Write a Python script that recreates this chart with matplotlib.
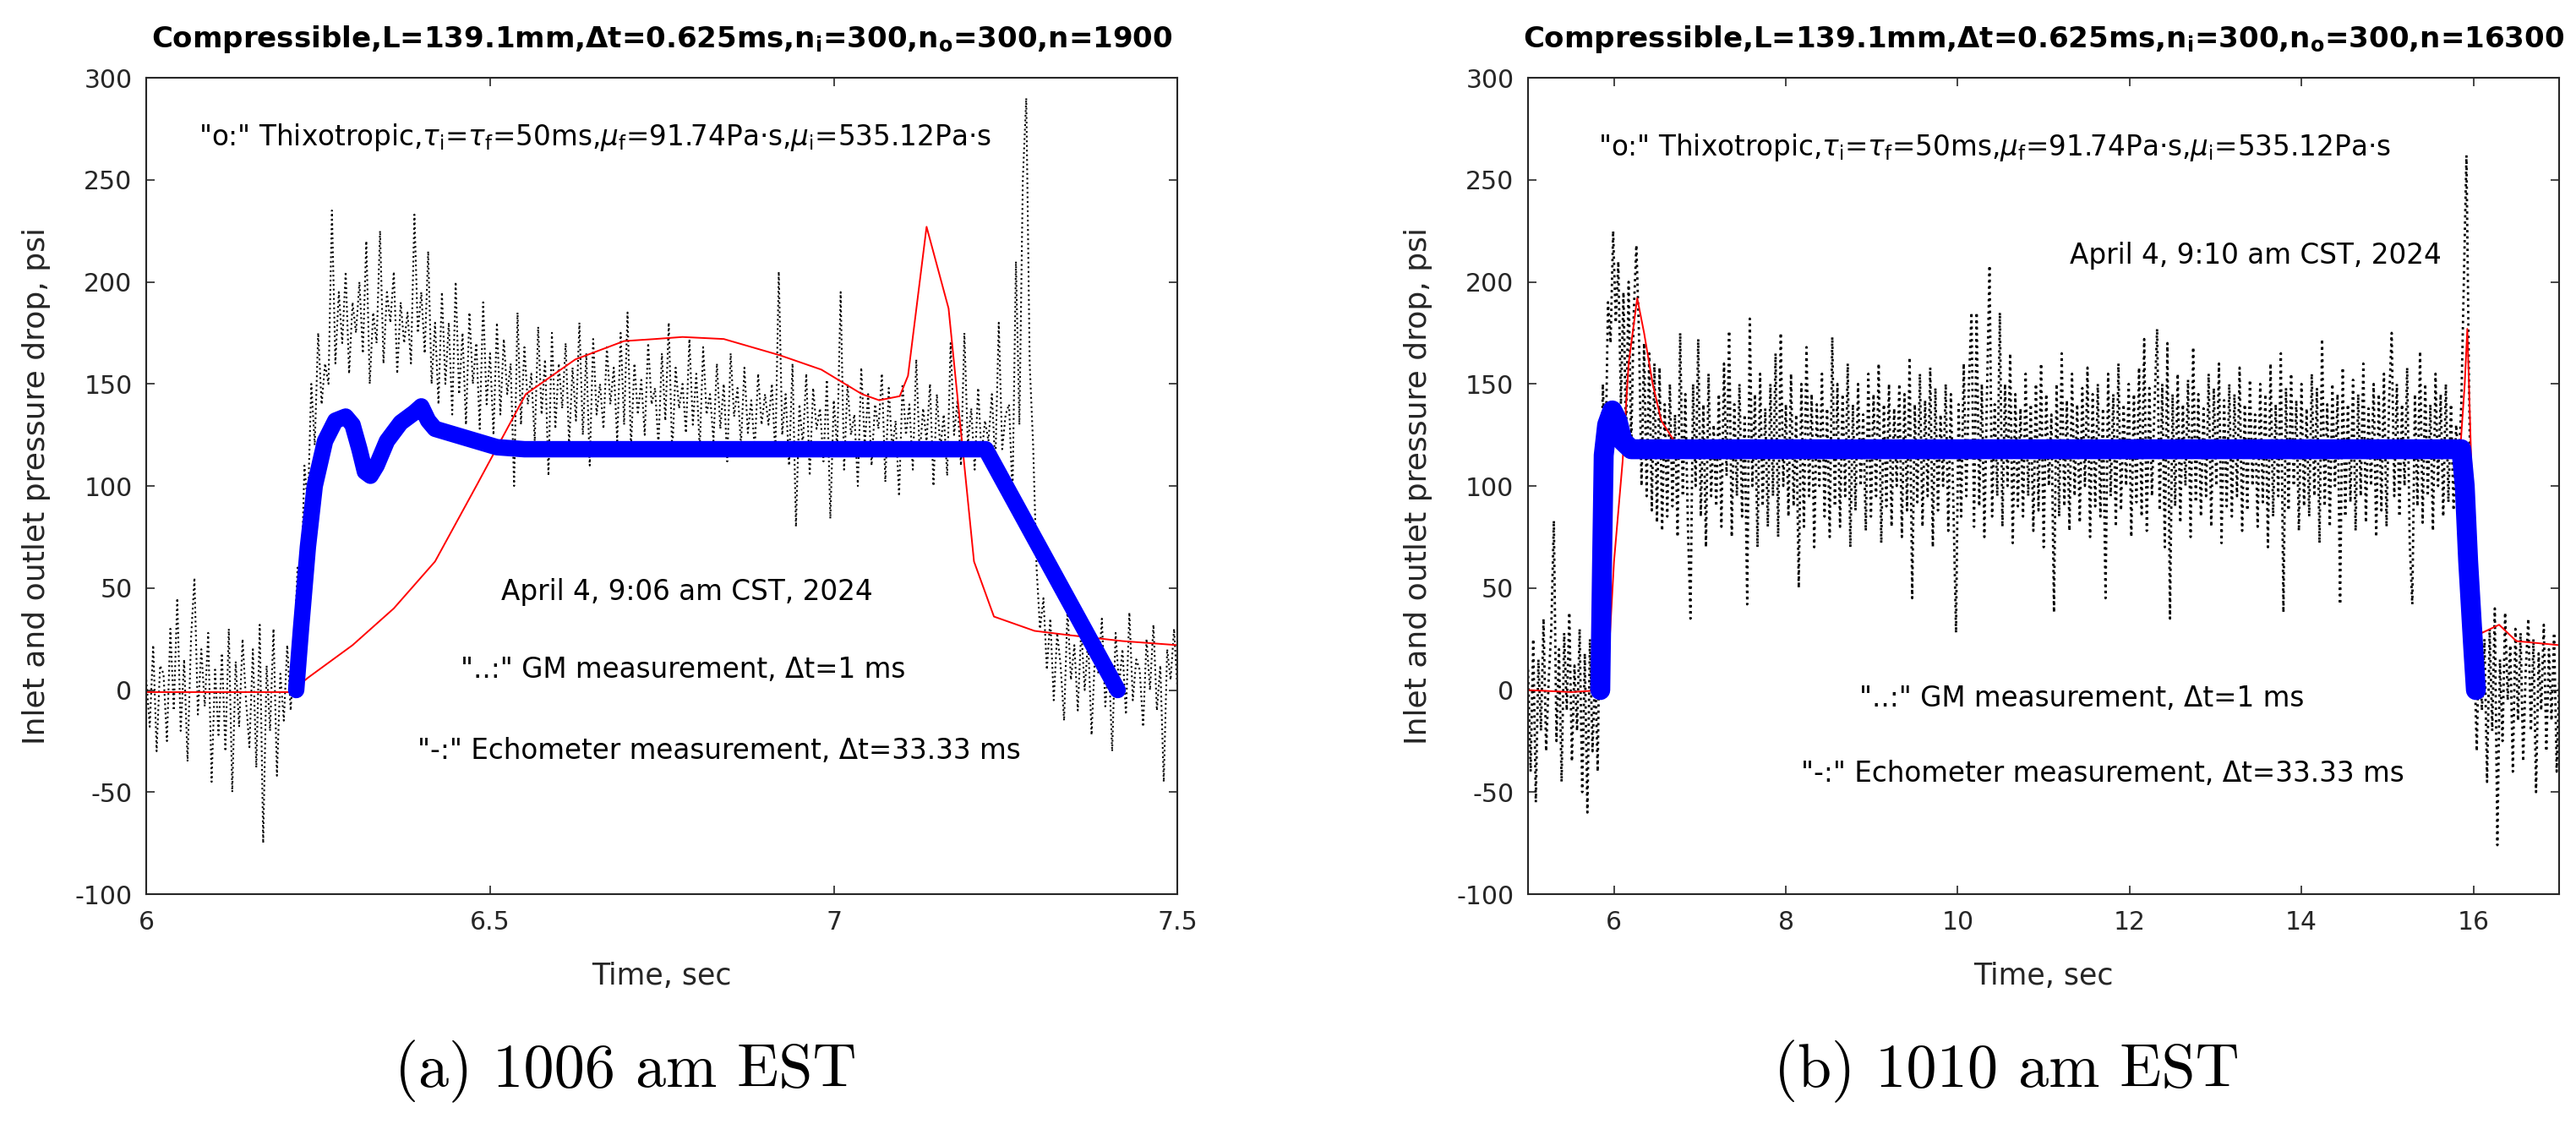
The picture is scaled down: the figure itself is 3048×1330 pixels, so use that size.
import numpy as np
from matplotlib import pyplot as plt

# ---------------- data (a) 1006 am EST ----------------
# GM measurement, read every 5 ms from 6.0 to 7.5 s
gm_a_start, gm_a_end = 6.0, 7.5
gm_a_p = [
    5, -18, 22, -30, 12, 8, -25, 30, -10, 45,
    -20, 15, -35, 25, 55, -12, 20, -8, 28, -45,
    10, -22, 18, -30, 30, -50, 14, -18, 25, -5,
    -28, 20, -38, 32, -75, 12, -20, 30, -42, 8,
    -15, 22, -10,
    20, 60, 45, 110, 90, 150, 120, 175, 140, 160, 150,
    235, 160, 195, 170, 205, 155, 190, 175, 200, 165,
    220, 150, 185, 170, 225, 160, 195, 180, 205, 155,
    190, 170, 185, 160, 233, 175, 195, 165, 215, 150,
    180,
    140, 195, 150, 180, 135, 200, 145, 175, 130, 185,
    150, 170, 128, 190, 140, 165, 125, 180, 135, 172,
    145, 160, 100, 185, 130, 168, 140, 155, 122, 178,
    135, 162, 105, 175, 128, 160, 138, 170, 120, 158,
    132, 180, 125, 165, 110, 172, 135, 150, 128, 168,
    140, 158, 122, 175, 130, 185, 118, 160, 135, 152,
    125, 170, 140, 148, 120, 165, 132, 180, 115, 158,
    138, 150, 126, 172, 130, 155, 118, 168, 135, 145,
    122, 160, 128, 150, 112, 165, 134, 148, 120, 158,
    126, 142, 118, 155, 130, 145,
    130, 150, 115, 205, 125, 145, 110, 160, 80, 140,
    120, 155, 105, 148, 128, 138, 112, 152, 84, 142,
    118, 195, 108, 150, 125, 135, 100, 158, 120, 145,
    110, 140, 128, 155, 102, 148, 118, 132, 95, 150,
    125, 140, 108, 162, 115, 138, 122, 150, 100, 145,
    118, 135, 105, 170, 125, 142, 110, 175, 120, 138,
    108, 148, 115, 132, 122, 145, 110, 180, 118, 135,
    140, 95, 210, 130, 250, 290, 160, 120, 60, 30,
    45, 10, 35, -5, 28, 12, -15, 40, 5, 22,
    -10, 30, 0, 25, -22, 18, 8, 35, -8, 15,
    -30, 28, 2, 20, -12, 38, -5, 15, 10, -18,
    25, 0, 32, -10, 12, -45, 20, 5, 30, 0,
]

# Echometer measurement
echo_a_t = [6.00, 6.10, 6.21, 6.235, 6.30, 6.36, 6.42, 6.48, 6.552, 6.624,
            6.695, 6.74, 6.78, 6.84, 6.922, 6.982, 7.041, 7.066, 7.096, 7.108,
            7.135, 7.167, 7.204, 7.233, 7.292, 7.34, 7.42, 7.50]
echo_a_p = [-1, -1, -1, 6, 22, 40, 63, 100, 145, 162,
            171, 172, 173, 172, 164, 157, 145, 142, 144, 154,
            227, 187, 63, 36, 29, 27, 24, 22]

# Thixotropic model
thixo_a_t = [6.218, 6.225, 6.235, 6.245, 6.26, 6.275, 6.29, 6.30, 6.31, 6.318,
             6.326, 6.335, 6.35, 6.37, 6.39, 6.40, 6.41, 6.42, 6.45, 6.48,
             6.51, 6.55, 6.70, 7.00, 7.221, 7.413]
thixo_a_p = [0, 30, 70, 100, 122, 132, 134, 130, 118, 107,
             105, 110, 122, 131, 136, 139, 132, 128, 125, 122,
             119, 118, 118, 118, 118, 0]

# ---------------- data (b) 1010 am EST ----------------
# GM measurement, read every 30 ms from 5.0 to 17.0 s
gm_b_start, gm_b_end = 5.0, 17.0
gm_b_p = [
    10, -40, 25, -55, 15, -20, 35, -30, 5, 30,
    83, -25, 20, -45, 28, -10, 38, -35, 12, -20,
    30, -50, 18, -60, 25, -30, 10, -40,
    60, 150, 110, 190, 170, 225, 180,
    210, 140, 195, 125, 200, 118, 185, 218, 175, 100,
    170, 95, 165, 88, 160, 82, 158, 78,
    140, 85, 150, 90, 135, 75, 175, 95, 145, 80,
    35, 150, 100, 172, 85, 140, 70, 155, 95, 130,
    90, 145, 80, 160, 105, 176, 75, 140, 95, 150,
    85, 135, 42, 182, 100, 145, 70, 155, 90, 138,
    80, 150, 95, 165, 75, 175, 100, 140, 85, 155,
    90, 135, 50, 150, 80, 168, 95, 145, 70, 140,
    100, 155, 85, 138, 75, 173, 90, 150, 80, 145,
    95, 160, 70, 140, 88, 150, 100, 135, 78, 155,
    85, 145, 95, 160, 72, 140, 90, 150, 80, 138,
    100, 150, 75, 145, 88, 163, 45, 140, 92, 155,
    80, 142, 95, 158, 70, 148, 88, 135, 100, 150,
    78, 145, 90, 28, 140, 85, 160, 95, 150, 185,
    80, 185, 90, 150, 75, 145, 208, 85, 140, 95,
    185, 80, 150, 100, 165, 72, 145, 90, 138, 85,
    155, 95, 140, 78, 150, 88, 160, 70, 145, 100,
    135, 38, 150, 85, 165, 90, 142, 78, 155, 95,
    140, 82, 148, 100, 158, 75, 145, 90, 150, 85,
    138, 45, 155, 95, 145, 80, 160, 88, 140, 100,
    150, 75, 145, 92, 158, 85, 172, 78, 148, 95,
    140, 177, 88, 150, 70, 170, 35, 145, 90, 155,
    82, 140, 100, 152, 75, 168, 92, 145, 85, 138,
    95, 155, 80, 148, 100, 160, 72, 142, 90, 150,
    85, 145, 95, 158, 78, 140, 88, 152, 100, 135,
    80, 150, 92, 145, 70, 160, 85, 140, 95, 165,
    38, 148, 88, 155, 100, 142, 78, 150, 90, 138,
    85, 155, 95, 148, 72, 172, 90, 140, 80, 150,
    100, 145, 42, 158, 85, 140, 92, 152, 78, 145,
    95, 160, 82, 138, 100, 150, 75, 145, 88, 155,
    80, 142, 175, 95, 150, 85, 140, 100, 158, 72,
    42, 145, 90, 166, 82, 150, 95, 140, 78, 155,
    100, 145, 85, 150, 92, 140, 88, 130, 110,
    140, 200, 262, 150, 60,
    20, -30, 35, -10, 25, -45, 30, -20, 40, -76,
    15, -25, 38, -5, 22, -40, 30, -15, 28, -35,
    10, 35, -20, 25, -50, 18, -10, 32, -30, 20,
    -15, 28, -40, 5,
]

echo_b_t = [5.0, 5.5, 5.88, 5.95, 6.0, 6.1, 6.17, 6.27, 6.35, 6.45,
            6.55, 6.7, 7.0, 10.0, 15.85, 15.9, 15.93, 15.97, 16.03, 16.1,
            16.3, 16.5, 17.0]
echo_b_p = [0, -1, 0, 25, 63, 112, 160, 192, 175, 150,
            132, 122, 118, 117, 119, 150, 177, 120, 40, 28,
            32, 24, 22]

thixo_b_t = [5.84, 5.86, 5.88, 5.92, 5.98, 6.04, 6.10, 6.20, 10.0, 15.86,
             15.90, 15.94, 16.00, 16.03]
thixo_b_p = [0, 60, 115, 130, 137, 132, 122, 118, 118, 118,
             100, 63, 20, 0]

y_ticks = [-100, -50, 0, 50, 100, 150, 200, 250, 300]
x_ticks_a = [6, 6.5, 7, 7.5]
x_ticks_b = [6, 8, 10, 12, 14, 16]

INK = '#262626'
plt.rcParams['font.family'] = ['DejaVu Sans']
plt.rcParams['mathtext.fontset'] = 'dejavusans'
plt.rcParams['axes.unicode_minus'] = False


def draw_panel(ax, gm_start, gm_end, gm_p, echo_t, echo_p, thixo_t, thixo_p,
               xlim, xticks, gm_lw, thixo_lw, title, notes):
    gm_t = np.linspace(gm_start, gm_end, len(gm_p))
    ax.plot(gm_t, gm_p, color='black', linestyle=':', linewidth=gm_lw)
    ax.plot(echo_t, echo_p, color='#ff0000', linewidth=1.4)
    ax.plot(thixo_t, thixo_p, color='#0000ff', linewidth=thixo_lw,
            solid_capstyle='round', solid_joinstyle='round')

    ax.set_xlim(*xlim)
    ax.set_ylim(-100, 300)
    ax.set_xticks(xticks)
    ax.set_xticklabels(['%g' % v for v in xticks])
    ax.set_yticks(y_ticks)
    ax.tick_params(direction='in', length=7, width=1.2, top=True, right=True,
                   labelsize=21.5, labelcolor=INK, color=INK)
    ax.tick_params(axis='x', pad=14)
    ax.tick_params(axis='y', pad=12)
    for s in ax.spines.values():
        s.set_linewidth(1.5)
        s.set_color(INK)

    ax.set_title(title, fontsize=24.5, fontweight='bold', pad=26)
    ax.set_xlabel('Time, sec', fontsize=25, color=INK)
    ax.xaxis.set_label_coords(0.5, -0.083)
    ax.set_ylabel('Inlet and outlet pressure drop, psi', fontsize=26, color=INK)
    ax.yaxis.set_label_coords(-0.0926, 0.5)

    for x, y, txt in notes:
        ax.text(x, y, txt, fontsize=23.5, ha='center', va='center', color='black')


fig = plt.figure(figsize=(30.48, 13.30), dpi=100)
ax_a = fig.add_axes([0.0568, 0.2045, 0.4003, 0.7263])
ax_b = fig.add_axes([0.5932, 0.2045, 0.4003, 0.7263])

thixo_txt = (r'"o:" Thixotropic,$\tau_\mathrm{i}$=$\tau_\mathrm{f}$=50ms,'
             r'$\mu_\mathrm{f}$=91.74Pa·s,$\mu_\mathrm{i}$=535.12Pa·s')
gm_txt = '"..:" GM measurement, Δt=1 ms'
echo_txt = '"-:" Echometer measurement, Δt=33.33 ms'

draw_panel(ax_a, gm_a_start, gm_a_end, gm_a_p, echo_a_t, echo_a_p,
           thixo_a_t, thixo_a_p, (6, 7.5), x_ticks_a, 1.5, 14,
           r'Compressible,L=139.1mm,Δt=0.625ms,n$_\mathbf{i}$=300,n$_\mathbf{o}$=300,n=1900',
           [(6.653, 271, thixo_txt),
            (6.787, 48, 'April 4, 9:06 am CST, 2024'),
            (6.781, 10, gm_txt),
            (6.833, -30, echo_txt)])

draw_panel(ax_b, gm_b_start, gm_b_end, gm_b_p, echo_b_t, echo_b_p,
           thixo_b_t, thixo_b_p, (5, 17), x_ticks_b, 2.0, 17,
           r'Compressible,L=139.1mm,Δt=0.625ms,n$_\mathbf{i}$=300,n$_\mathbf{o}$=300,n=16300',
           [(10.43, 266, thixo_txt),
            (13.47, 213, 'April 4, 9:10 am CST, 2024'),
            (11.44, -4, gm_txt),
            (11.69, -41, echo_txt)])

fig.text(0.2428, 0.0466, '(a) 1006 am EST', family='cmr10', fontsize=52,
         ha='center', va='center')
fig.text(0.779, 0.0466, '(b) 1010 am EST', family='cmr10', fontsize=52,
         ha='center', va='center')

fig.savefig('out.png', dpi=100)
